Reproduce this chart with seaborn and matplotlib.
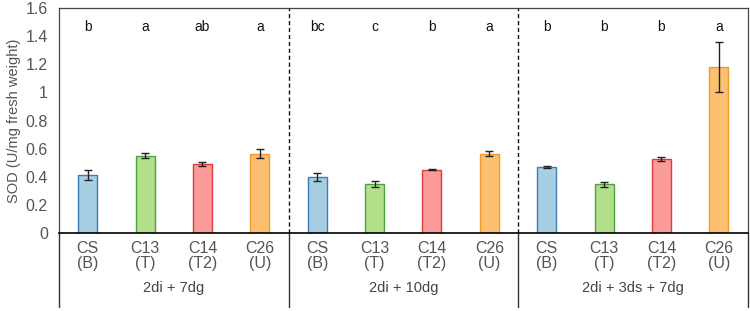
import pandas as pd
import numpy as np
import matplotlib
matplotlib.use("Agg")
import matplotlib.pyplot as plt
import matplotlib.transforms as mtrans
import seaborn as sns

# --- Data ---
groups = ["2di + 7dg", "2di + 10dg", "2di + 3ds + 7dg"]
strains = ["CS\n(B)", "C13\n(T)", "C14\n(T2)", "C26\n(U)"]
sod_7dg = [0.41, 0.55, 0.49, 0.565]
sod_10dg = [0.40, 0.35, 0.45, 0.565]
sod_3ds = [0.47, 0.345, 0.525, 1.18]
err_7dg = [0.035, 0.02, 0.015, 0.03]
err_10dg = [0.03, 0.02, 0.005, 0.02]
err_3ds = [0.006, 0.02, 0.015, 0.18]
letters_7dg = ["b", "a", "ab", "a"]
letters_10dg = ["bc", "c", "b", "a"]
letters_3ds = ["b", "b", "b", "a"]

fill_colors = ["#A7CFE3", "#B3DF8B", "#FB9B9A", "#FDBF70"]
edge_colors = ["#3B7DB6", "#4CA53C", "#E0393C", "#F29A2C"]

# --- Build table ---
rows = []
for g, vals, errs, lets in zip(groups,
                                [sod_7dg, sod_10dg, sod_3ds],
                                [err_7dg, err_10dg, err_3ds],
                                [letters_7dg, letters_10dg, letters_3ds]):
    for s, v, e, l in zip(strains, vals, errs, lets):
        rows.append({"group": g, "strain": s, "sod": v, "err": e, "letter": l})
df = pd.DataFrame(rows)
df["slot"] = range(len(df))

# --- Plot ---
sns.set_style("white")
plt.rcParams["font.family"] = ["Liberation Sans", "DejaVu Sans"]

fig = plt.figure(figsize=(7.5, 3.11), dpi=100)
ax = fig.add_axes([0.0787, 0.251, 0.918, 0.723])

sns.barplot(data=df, x="slot", y="sod", hue="strain", hue_order=strains,
            palette=fill_colors, saturation=1, dodge=False, width=0.33,
            legend=False, errorbar=None, ax=ax)

for p in ax.patches:
    cx = p.get_x() + p.get_width() / 2
    i = int(round(cx))
    if 0 <= i < len(df):
        p.set_edgecolor(edge_colors[strains.index(df.loc[i, "strain"])])
        p.set_linewidth(1.0)

ax.errorbar(df["slot"], df["sod"], yerr=df["err"], fmt="none",
            ecolor="#222222", elinewidth=1.0, capsize=3, capthick=1.0, zorder=5)

for i, row in df.iterrows():
    ax.text(row["slot"], 1.465, row["letter"], ha="center", va="center",
            fontsize=10, color="#111111")

ax.set_xlim(-0.5, len(df) - 0.5)
ax.set_ylim(0, 1.6)
ax.set_yticks(np.arange(0, 1.61, 0.2))
ax.set_yticklabels(["0", "0.2", "0.4", "0.6", "0.8", "1", "1.2", "1.4", "1.6"])
ax.set_xticks(df["slot"])
ax.set_xticklabels(df["strain"], linespacing=0.95)
ax.tick_params(axis="y", direction="in", length=4, width=0.8, colors="#444444",
               labelsize=11.5, labelcolor="#555555", pad=8)
ax.tick_params(axis="x", length=0, labelsize=11.5, labelcolor="#555555", pad=6)
ax.set_xlabel("")
ax.set_ylabel("SOD (U/mg fresh weight)", fontsize=10.5, color="#555555", labelpad=3)

for side in ["top", "right", "left"]:
    ax.spines[side].set_color("#444444")
    ax.spines[side].set_linewidth(0.9)
ax.spines["bottom"].set_color("#000000")
ax.spines["bottom"].set_linewidth(1.2)

# group separators: dashed inside the plot, solid under the axis
trans = mtrans.blended_transform_factory(ax.transData, ax.transAxes)
for xs in [3.5, 7.5]:
    ax.plot([xs, xs], [0, 1], transform=trans, ls=(0, (3, 2)), color="#111111",
            lw=1.0, clip_on=False)
for xs in [-0.5, 3.5, 7.5, len(df) - 0.5]:
    ax.plot([xs, xs], [0, -0.33], transform=trans, color="#333333", lw=1.0,
            clip_on=False)

for k, g in enumerate(groups):
    ax.text(4 * k + 1.5, -0.245, g, transform=trans, ha="center", va="center",
            fontsize=10.5, color="#444444")

fig.savefig("out.png", dpi=100)
